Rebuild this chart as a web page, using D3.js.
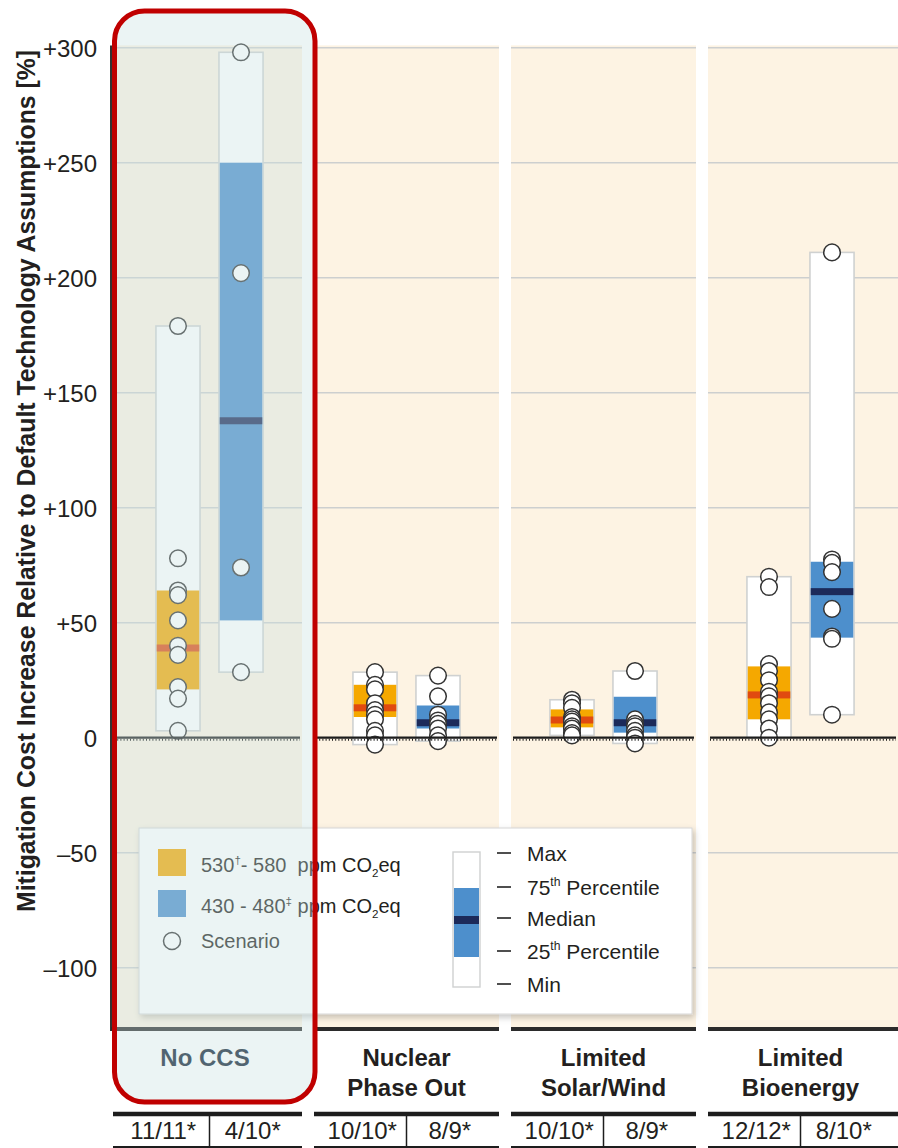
<!DOCTYPE html>
<html>
<head>
<meta charset="utf-8">
<script src="https://cdn.jsdelivr.net/npm/d3@7"></script>
<style>
  body { margin: 0; background: #fff; }
  svg { display: block; }
</style>
</head>
<body>
<svg id="chart" width="898" height="1148"></svg>
<script>
// ---- data ----
const categories = ["No CCS", "Nuclear Phase Out", "Limited Solar/Wind", "Limited Bioenergy"];
const categoryLines = [["No CCS"], ["Nuclear", "Phase Out"], ["Limited", "Solar/Wind"], ["Limited", "Bioenergy"]];
const groups = ["530-580", "430-480"];
const modelCounts = [["11/11*", "4/10*"], ["10/10*", "8/9*"], ["10/10*", "8/9*"], ["12/12*", "8/10*"]];

// [min, 25th, median, 75th, max] per technology case
const stats530 = [[3, 21, 39, 64, 179], [-3, 9, 13, 23, 28.5], [1, 4.5, 7.7, 12.3, 16.5], [0, 8, 18.6, 31, 70]];
const stats430 = [[28.5, 51, 137.8, 250, 298], [-1.5, 4, 6.5, 14, 27], [-2.5, 2.2, 6.5, 17.8, 29], [10, 43.5, 63.5, 76.5, 211]];

// individual scenario results
const scen530 = [
  [179, 78, 64, 62, 51, 40, 36, 22, 17, 3],
  [28.5, 23, 21, 15, 12, 10, 8, 3, 1, -3],
  [16.5, 15, 13, 9, 8, 7, 5, 4, 2, 1],
  [70, 65.5, 32, 29, 25, 20, 18, 15, 11, 8, 4, 0]
];
const scen430 = [
  [298, 202, 74, 28.5],
  [27, 18, 10, 7.5, 6, 4, 1, -1.5],
  [29, 8, 6, 5, 3, 1, 0, -2.5],
  [211, 77.5, 76, 72, 56, 44, 43, 10]
];
const yTicks = [-100, -50, 0, 50, 100, 150, 200, 250, 300];

// ---- styles ----
const FONT = "'Liberation Sans Narrow','Arial Narrow','Liberation Sans',sans-serif";
const C = {
  panel: "#fdf3e3", grid: "#cdcfcf", boxFill: "#ffffff", boxStroke: "#cfd1d1",
  fill: { "530-580": "#f5a800", "430-480": "#4d8fcc" },
  median: { "530-580": "#e04a10", "430-480": "#1c2a5a" },
  ink: "#231f20", red: "#c00000"
};

const svg = d3.select("#chart");
const y = d3.scaleLinear().domain([-127, 301]).range([1029.8, 45.4]);
const panelX = d3.scaleBand().domain(categories).range([117, 893]).paddingInner(12 / 197).paddingOuter(0);
const barX = d3.scaleBand().domain(groups).range([0, panelX.bandwidth()]).paddingInner(0.30).paddingOuter(0.618);

const panelExtent = (c, i) => {
  const x0 = panelX(c);
  return [i === 0 ? 112 : x0, i === categories.length - 1 ? 898 : x0 + panelX.bandwidth()];
};

const fmt = v => v > 0 ? "+" + v : v < 0 ? "\u2013" + Math.abs(v) : "0";

// ---- y axis ----
const yAxis = d3.axisLeft(y).tickValues(yTicks).tickFormat(fmt).tickSize(0).tickPadding(14);
const ag = svg.append("g").attr("transform", "translate(111,0)").call(yAxis);
ag.select(".domain").remove();
ag.selectAll("text").attr("font-family", FONT).attr("font-size", 24).attr("fill", C.ink).attr("dy", "0.36em");
svg.append("line").attr("x1", 111).attr("x2", 111).attr("y1", y(301)).attr("y2", 1031)
  .attr("stroke", "#333").attr("stroke-width", 2);

svg.append("text")
  .attr("transform", "translate(35,481) rotate(-90)")
  .attr("text-anchor", "middle")
  .attr("font-family", FONT).attr("font-weight", "bold").attr("font-size", 25).attr("fill", C.ink)
  .attr("textLength", 862).attr("lengthAdjust", "spacingAndGlyphs")
  .text("Mitigation Cost Increase Relative to Default Technology Assumptions [%]");

// ---- panels ----
categories.forEach((cat, i) => {
  const [x0, x1] = panelExtent(cat, i);
  const g = svg.append("g");
  g.append("rect").attr("x", x0).attr("y", y(301)).attr("width", x1 - x0).attr("height", y(-127) - y(301))
    .attr("fill", C.panel);

  g.selectAll("line.grid").data(yTicks.filter(t => t !== 0)).join("line")
    .attr("x1", x0).attr("x2", x1).attr("y1", d => y(d)).attr("y2", d => y(d))
    .attr("stroke", C.grid).attr("stroke-width", 1.5);

  const px = panelX(cat);
  const series = [
    { key: groups[0], s: stats530[i], pts: scen530[i] },
    { key: groups[1], s: stats430[i], pts: scen430[i] }
  ];
  series.forEach(({ key, s, pts }) => {
    const bx = px + barX(key), bw = barX.bandwidth();
    const [mn, q1, md, q3, mx] = s;
    g.append("rect").attr("x", bx).attr("y", y(mx)).attr("width", bw).attr("height", y(mn) - y(mx))
      .attr("fill", C.boxFill).attr("stroke", C.boxStroke).attr("stroke-width", 1.6);
    g.append("rect").attr("x", bx + 0.8).attr("y", y(q3)).attr("width", bw - 1.6).attr("height", y(q1) - y(q3))
      .attr("fill", C.fill[key]);
    g.append("rect").attr("x", bx + 0.8).attr("y", y(md) - 3.5).attr("width", bw - 1.6).attr("height", 7)
      .attr("fill", C.median[key]);
    g.selectAll(null).data(pts).join("circle")
      .attr("cx", bx + bw / 2).attr("cy", d => y(d)).attr("r", 8.3)
      .attr("fill", "#fff").attr("stroke", "#333").attr("stroke-width", 1.5);
  });

  // zero reference line with tick texture
  g.append("line").attr("x1", x0 + 2).attr("x2", x1 - 2).attr("y1", y(0)).attr("y2", y(0))
    .attr("stroke", "#1d1d1d").attr("stroke-width", 2.2);
  g.append("line").attr("x1", x0 + 2).attr("x2", x1 - 2).attr("y1", y(0) + 2).attr("y2", y(0) + 2)
    .attr("stroke", "#1d1d1d").attr("stroke-width", 2).attr("stroke-dasharray", "1 2.2");

  // bottom rule of plot area
  g.append("line").attr("x1", i === 0 ? 111 : x0).attr("x2", x1).attr("y1", 1029).attr("y2", 1029)
    .attr("stroke", "#2b2b2b").attr("stroke-width", 4);

  // category labels
  categoryLines[i].forEach((t, k) => {
    g.append("text").attr("x", i === 0 ? 205 : px + panelX.bandwidth() / 2).attr("y", 1066 + k * 30)
      .attr("text-anchor", "middle").attr("font-family", FONT).attr("font-weight", "bold")
      .attr("font-size", 24).attr("fill", i === 0 ? "#0f1f33" : C.ink).text(t);
  });

  // model count table
  const tx0 = i === 0 ? 113 : x0;
  const tmid = px + panelX.bandwidth() / 2;
  g.append("line").attr("x1", tx0).attr("x2", x1).attr("y1", 1114).attr("y2", 1114)
    .attr("stroke", "#1d1d1d").attr("stroke-width", 4.5);
  g.append("line").attr("x1", tx0).attr("x2", x1).attr("y1", 1147).attr("y2", 1147)
    .attr("stroke", "#1d1d1d").attr("stroke-width", 2);
  g.append("line").attr("x1", tmid).attr("x2", tmid).attr("y1", 1116).attr("y2", 1147)
    .attr("stroke", "#1d1d1d").attr("stroke-width", 1.5);
  modelCounts[i].forEach((t, k) => {
    const cxT = k === 0 ? (tx0 + tmid) / 2 + 2 : (tmid + (i === categories.length - 1 ? 893 : x1)) / 2 - 3;
    g.append("text").attr("x", cxT).attr("y", 1139).attr("text-anchor", "middle")
      .attr("font-family", FONT).attr("font-size", 24).attr("fill", C.ink).text(t);
  });
});

// ---- legend ----
const defs = svg.append("defs");
const sh = defs.append("filter").attr("id", "shadow").attr("x", "-5%").attr("y", "-5%").attr("width", "115%").attr("height", "120%");
sh.append("feDropShadow").attr("dx", 2).attr("dy", 3).attr("stdDeviation", 3).attr("flood-color", "#000").attr("flood-opacity", 0.22);

const lg = svg.append("g").attr("font-family", FONT).attr("fill", C.ink);
lg.append("rect").attr("x", 139).attr("y", 828).attr("width", 553).attr("height", 186)
  .attr("fill", "#fff").attr("stroke", "#d6d6d6").attr("filter", "url(#shadow)");

lg.append("rect").attr("x", 158).attr("y", 849).attr("width", 28).attr("height", 27).attr("fill", C.fill["530-580"]);
lg.append("rect").attr("x", 158).attr("y", 890).attr("width", 28).attr("height", 27).attr("fill", C.fill["430-480"]);
lg.append("circle").attr("cx", 172).attr("cy", 941).attr("r", 8.5).attr("fill", "#fff").attr("stroke", "#333").attr("stroke-width", 1.5);

// text with inline super/subscripts, positioned with baseline-shift
function richText(x, yb, parts, size) {
  const t = lg.append("text").attr("x", x).attr("y", yb).attr("font-size", size).style("white-space", "pre");
  parts.forEach(([s, mode]) => {
    const ts = t.append("tspan").text(s);
    if (mode === "sup") ts.attr("font-size", size * 0.58).attr("baseline-shift", size * 0.42);
    if (mode === "sub") ts.attr("font-size", size * 0.58).attr("baseline-shift", -size * 0.25);
  });
  return t;
}
richText(201, 872, [["530"], ["\u2020", "sup"], ["- 580  ppm CO"], ["2", "sub"], ["eq"]], 20);
richText(201, 913, [["430 - 480"], ["\u2021", "sup"], [" ppm CO"], ["2", "sub"], ["eq"]], 20);
richText(201, 948, [["Scenario"]], 20);

// box anatomy key
lg.append("rect").attr("x", 453).attr("y", 852).attr("width", 27).attr("height", 135)
  .attr("fill", "#fff").attr("stroke", "#cfd1d1").attr("stroke-width", 1.4);
lg.append("rect").attr("x", 454).attr("y", 888).attr("width", 25).attr("height", 69).attr("fill", C.fill["430-480"]);
lg.append("rect").attr("x", 454).attr("y", 916).attr("width", 25).attr("height", 8).attr("fill", C.median["430-480"]);
const keyRows = [
  [853, [["Max"]]],
  [887, [["75"], ["th", "sup"], [" Percentile"]]],
  [918, [["Median"]]],
  [951, [["25"], ["th", "sup"], [" Percentile"]]],
  [984, [["Min"]]]
];
keyRows.forEach(([yy, parts]) => {
  lg.append("line").attr("x1", 497).attr("x2", 511).attr("y1", yy).attr("y2", yy).attr("stroke", "#222").attr("stroke-width", 1.6);
  richText(527, yy + 8, parts, 21);
});

// ---- highlighted case ----
const hl = { x: 114.5, y: 11, w: 200.5, h: 1091, r: 30 };
svg.append("rect").attr("x", hl.x).attr("y", hl.y).attr("width", hl.w).attr("height", hl.h).attr("rx", hl.r)
  .attr("fill", "rgb(199,224,224)").attr("fill-opacity", 0.36);
svg.append("rect").attr("x", hl.x).attr("y", hl.y).attr("width", hl.w).attr("height", hl.h).attr("rx", hl.r)
  .attr("fill", "none").attr("stroke", C.red).attr("stroke-width", 5);
</script>
</body>
</html>
